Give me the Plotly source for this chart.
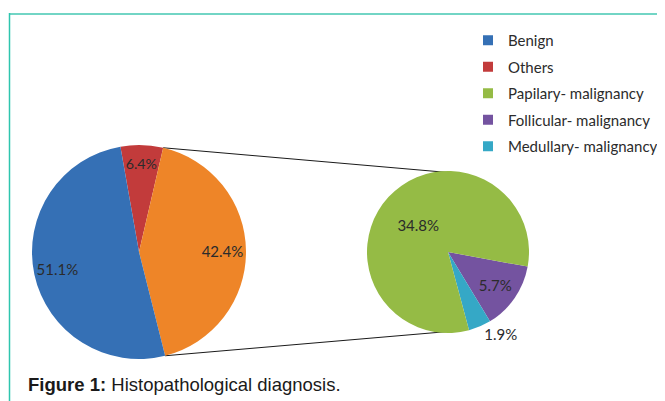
import math
import plotly.graph_objects as go

# ---------------- data ----------------
main_labels = ["Others", "Malignancy", "Benign"]
malig_labels = ["Follicular- malignancy", "Medullary- malignancy", "Papilary- malignancy"]
malig_values = [5.7, 1.9, 34.8]
others_value = 6.4
benign_value = 51.1
main_values = [others_value, round(sum(malig_values), 1), benign_value]

legend_labels = ["Benign", "Others", "Papilary- malignancy", "Follicular- malignancy", "Medullary- malignancy"]

# ---------------- style ----------------
W, H = 665, 401
OFF = 8  # page body margin of the rendered html
main_colors = ["#C23B3B", "#EE8528", "#3570B5"]
malig_colors = ["#7453A0", "#35A8C6", "#95BB45"]
legend_colors = ["#3570B5", "#C23B3B", "#95BB45", "#7453A0", "#35A8C6"]
text_color = "#2b2b2b"
label_font = dict(family="Lato, Open Sans, sans-serif", size=15, color=text_color)

# pie geometry in window pixels (layout only)
L_CX, L_CY, L_R = 139, 252, 107
R_CX, R_CY, R_R = 448, 252, 81
L_ROT = -10
R_ROT = 100.4


def fx(x):
    return (x - OFF) / W


def fy(y):
    return (H - (y - OFF)) / H


def dom(cx, cy, r):
    return dict(x=[fx(cx - r), fx(cx + r)], y=[fy(cy + r), fy(cy - r)])


fig = go.Figure()

# left pie (colour only)
fig.add_trace(go.Pie(
    labels=main_labels, values=main_values, sort=False, direction="clockwise",
    rotation=L_ROT, marker=dict(colors=main_colors, line=dict(width=0)),
    textinfo="none", showlegend=False, domain=dom(L_CX, L_CY, L_R), hoverinfo="label+value",
))
# transparent ring to carry the labels further out, as in the original
fig.add_trace(go.Pie(
    labels=main_labels, values=main_values, sort=False, direction="clockwise",
    rotation=L_ROT, hole=0.56,
    marker=dict(colors=["rgba(0,0,0,0)"] * 3, line=dict(width=0)),
    texttemplate="%{value:.1f}%", textposition="inside", insidetextorientation="horizontal",
    insidetextfont=label_font, showlegend=False, domain=dom(L_CX, L_CY, L_R), hoverinfo="skip",
))

# right pie (breakdown of malignancy)
fig.add_trace(go.Pie(
    labels=malig_labels, values=malig_values, sort=False, direction="clockwise",
    rotation=R_ROT, marker=dict(colors=malig_colors, line=dict(width=0)),
    texttemplate="%{value:.1f}%", textposition=["inside", "outside", "inside"],
    insidetextorientation="horizontal",
    insidetextfont=label_font, outsidetextfont=label_font,
    showlegend=False, domain=dom(R_CX, R_CY, R_R),
))

# legend entries
for i, (lab, col) in enumerate(zip(legend_labels, legend_colors)):
    fig.add_trace(go.Scatter(
        x=[None], y=[None], mode="markers", name=lab, legendgroup=f"g{i}",
        marker=dict(symbol="square", size=10, color=col),
    ))

# connector lines: from the edges of the malignancy slice to top/bottom of second pie
tot = sum(main_values)
a0 = math.radians(L_ROT + 360 * main_values[0] / tot)
a1 = math.radians(L_ROT + 360 * (main_values[0] + main_values[1]) / tot)
p_top = (L_CX + L_R * math.sin(a0), L_CY - L_R * math.cos(a0))
p_bot = (L_CX + L_R * math.sin(a1), L_CY - L_R * math.cos(a1))
q_top = (R_CX + 6, R_CY - R_R + 2)
q_bot = (R_CX + 6, R_CY + R_R - 2)

shapes = []
for p, q in [(p_top, q_top), (p_bot, q_bot)]:
    shapes.append(dict(type="line", xref="paper", yref="paper",
                       x0=fx(p[0]), y0=fy(p[1]), x1=fx(q[0]), y1=fy(q[1]),
                       line=dict(color="#1a1a1a", width=1), layer="below"))

# teal frame (top and left)
shapes.append(dict(type="line", xref="paper", yref="paper", x0=fx(9), x1=fx(700), y0=fy(14), y1=fy(14),
                   line=dict(color="#72D5C5", width=2)))
shapes.append(dict(type="line", xref="paper", yref="paper", x0=fx(9.5), x1=fx(9.5), y0=fy(420), y1=fy(13),
                   line=dict(color="#2EC5AE", width=1.5)))

fig.update_layout(
    width=W, height=H, margin=dict(l=0, r=0, t=0, b=0),
    paper_bgcolor="white", plot_bgcolor="white",
    xaxis=dict(visible=False), yaxis=dict(visible=False),
    shapes=shapes,
    showlegend=True,
    legend=dict(
        x=fx(508 - 40), y=fy(24), xanchor="left", yanchor="top",
        font=dict(family="Lato, Open Sans, sans-serif", size=15, color=text_color),
        tracegroupgap=4, bgcolor="rgba(0,0,0,0)", itemclick=False,
    ),
    annotations=[dict(
        text="<b>Figure 1:</b> Histopathological diagnosis.",
        xref="paper", yref="paper", x=fx(26), y=fy(384), xanchor="left", yanchor="middle",
        showarrow=False, font=dict(family="Liberation Sans, Arial, sans-serif", size=18.5, color="#1a1a1a"),
    )],
)

fig.write_html("out.html")
